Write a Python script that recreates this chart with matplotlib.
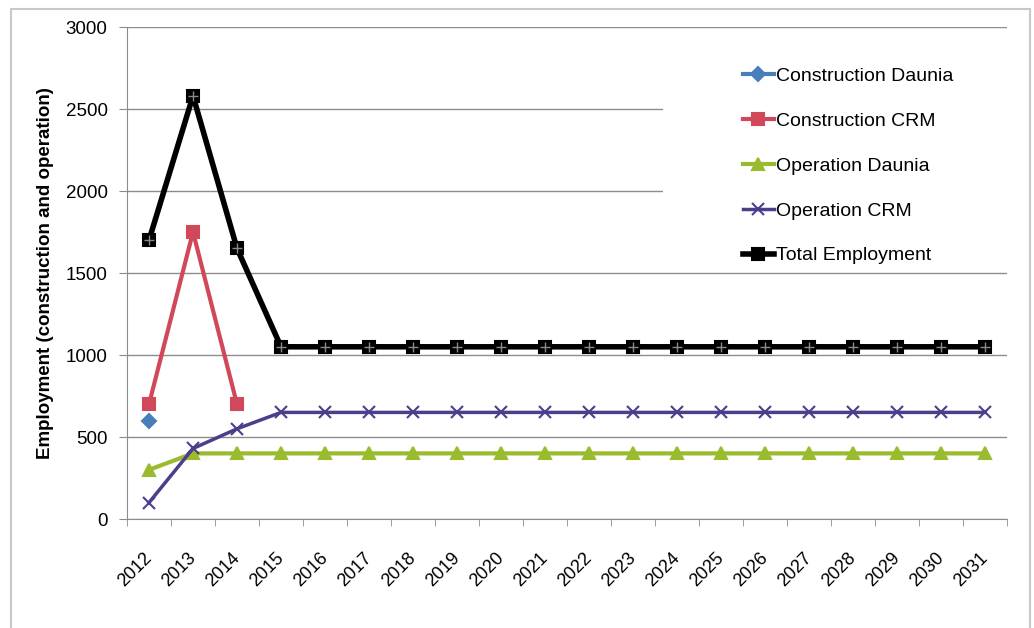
import numpy as np
import matplotlib
matplotlib.use("Agg")
import matplotlib.pyplot as plt
import matplotlib.transforms as mtransforms
from matplotlib.patches import Rectangle

plt.rcParams['font.family'] = ['Liberation Sans', 'DejaVu Sans']

# data
years = [str(y) for y in range(2012, 2032)]
construction_daunia = [600] + [np.nan] * 19
construction_crm = [700, 1750, 700] + [np.nan] * 17
operation_daunia = [300] + [400] * 19
operation_crm = [100, 430, 550] + [650] * 17
total_employment = [1700, 2580, 1650] + [1050] * 17

fig = plt.figure(figsize=(10.34, 6.28), dpi=100)
ax = fig.add_axes([127 / 1034, 1 - 519 / 628, (1007 - 127) / 1034, (519 - 27) / 628])

x = np.arange(len(years))

# series: (values, label, color, marker, size, linewidth)
series = [
    (construction_daunia, "Construction Daunia", "#4a7ebb", "D", 7, 3),
    (construction_crm, "Construction CRM", "#d0485a", "s", 9, 3),
    (operation_daunia, "Operation Daunia", "#9bbb2f", "^", 8, 3),
    (operation_crm, "Operation CRM", "#4b3f8c", "x", 8, 2.5),
    (total_employment, "Total Employment", "black", "s", 9, 4),
]

handles = []
for vals, label, c, m, ms, lw in series:
    h, = ax.plot(x, vals, color=c, marker=m, markersize=ms, linewidth=lw,
                 markeredgecolor=c, markeredgewidth=1.5, label=label, zorder=3)
    handles.append(h)

# plus-ish cross inside Total Employment squares
ax.plot(x, total_employment, linestyle="none", marker="+", markersize=7,
        markeredgecolor="#888888", markeredgewidth=1, zorder=4)

ax.set_xlim(-0.5, len(years) - 0.5)
ax.set_ylim(0, 3000)
ax.set_yticks(np.arange(0, 3001, 500))
ax.set_xticks(x)
ax.set_xticklabels(years, rotation=45, ha="right", fontsize=13)
ax.set_xticks(np.arange(-0.5, len(years), 1), minor=True)
ax.tick_params(axis="x", which="major", length=0, pad=22)
ax.tick_params(axis="x", which="minor", length=5, color="#8c8c8c", direction="out")
ax.tick_params(axis="y", length=6, color="#8c8c8c", labelsize=13.5, pad=8)

offset = mtransforms.ScaledTranslation(6 / 100, 0, fig.dpi_scale_trans)
for lab in ax.get_xticklabels():
    lab.set_transform(lab.get_transform() + offset)

ax.grid(axis="y", color="#8c8c8c", linewidth=1)
ax.set_axisbelow(True)
for s in ["top", "right"]:
    ax.spines[s].set_visible(False)
for s in ["left", "bottom"]:
    ax.spines[s].set_color("#8c8c8c")

ax.set_ylabel("Employment (construction and operation)", fontsize=13.5,
              fontweight="bold", labelpad=8)

# white area behind the legend hides the gridlines
ax.add_patch(Rectangle((0.609, 0.516), 0.40, 0.47, transform=ax.transAxes,
                       facecolor="white", edgecolor="none", zorder=1, clip_on=False))

ax.legend(handles=handles, loc="upper left",
          bbox_to_anchor=(725 / 1034, 1 - 50 / 628), bbox_transform=fig.transFigure,
          frameon=False, fontsize=14, handlelength=1.6, handletextpad=0.1,
          labelspacing=1.4)

# light frame around the picture
fig.add_artist(Rectangle((11 / 1034, -0.01), (1030 - 11) / 1034, 1 - 9 / 628 + 0.01,
                         transform=fig.transFigure, fill=False,
                         edgecolor="#c8c8c8", linewidth=1.5))

fig.savefig("out.png", dpi=100)
